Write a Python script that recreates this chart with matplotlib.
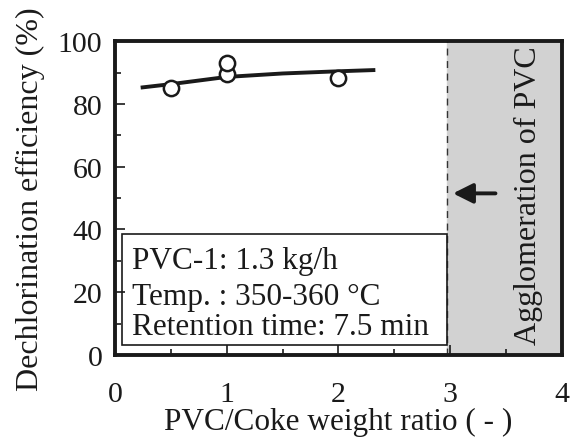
import matplotlib.pyplot as plt
import matplotlib.patches as patches
from matplotlib.ticker import MultipleLocator

# measured points
ratio = [0.5, 1.0, 1.0, 2.0]
efficiency = [85.2, 89.5, 93.0, 88.3]

# hand-drawn trend line
trend_x = [0.23, 0.5, 1.0, 1.5, 2.0, 2.33]
trend_y = [85.2, 86.3, 88.6, 89.7, 90.4, 90.8]

agglom_start = 2.97

plt.rcParams['font.family'] = 'Liberation Serif'

fig = plt.figure(figsize=(5.74, 4.39), dpi=100)
ax = fig.add_axes([0.2003, 0.189, 0.7787, 0.715])

ax.axvspan(agglom_start, 4, color='#d2d2d2', zorder=0)
ax.axvline(agglom_start, color='#333333', lw=1, ls=(0, (5, 4)), zorder=1)

ax.plot(trend_x, trend_y, color='#1a1a1a', lw=2.8, solid_capstyle='butt', zorder=2)
ax.plot(ratio, efficiency, 'o', ms=11, mfc='white', mec='#1a1a1a', mew=1.8, zorder=3)

ax.annotate('', xy=(3.0, 51.5), xytext=(3.43, 51.5),
            arrowprops=dict(arrowstyle='-|>,head_length=1.2,head_width=0.6',
                            color='#1a1a1a', lw=2.8))

ax.text(3.7, 51, 'Agglomeration of PVC', rotation=90, ha='center', va='center',
        fontsize=23, color='#1a1a1a')

box = patches.Rectangle((0.06, 3.2), agglom_start - 0.06, 35.3, fill=False,
                        ec='#1a1a1a', lw=1.2, zorder=4)
ax.add_patch(box)
ax.text(0.15, 30.0, 'PVC-1: 1.3 kg/h', fontsize=22.5, va='center', color='#1a1a1a')
ax.text(0.15, 18.5, 'Temp. : 350-360 °C', fontsize=22.5, va='center', color='#1a1a1a')
ax.text(0.15, 9.2, 'Retention time: 7.5 min', fontsize=22.5, va='center', color='#1a1a1a')

ax.set_xlim(0, 4)
ax.set_ylim(0, 100)
ax.xaxis.set_major_locator(MultipleLocator(1))
ax.xaxis.set_minor_locator(MultipleLocator(0.5))
ax.yaxis.set_major_locator(MultipleLocator(20))
ax.yaxis.set_minor_locator(MultipleLocator(10))
ax.tick_params(which='both', direction='in', top=False, right=False,
               labelsize=21.5, colors='#1a1a1a', width=1.2)
ax.tick_params(axis='x', which='major', length=7, pad=19)
ax.tick_params(axis='y', which='major', length=7, pad=9)
ax.tick_params(which='minor', length=4)

for s in ax.spines.values():
    s.set_linewidth(2.8)
    s.set_color('#1a1a1a')

ax.set_xlabel('PVC/Coke weight ratio ( - )', fontsize=22.5, color='#1a1a1a', labelpad=0)
ax.set_ylabel('Dechlorination efficiency (%)', fontsize=23, color='#1a1a1a', labelpad=9)

plt.savefig('out.png', dpi=100)
